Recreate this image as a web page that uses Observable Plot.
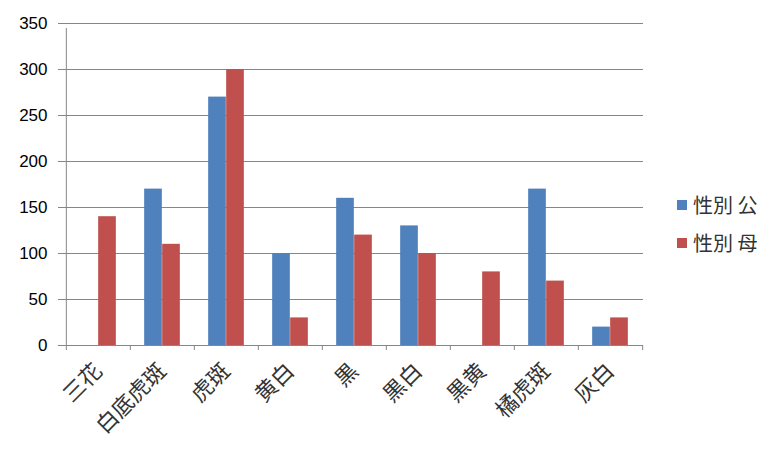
<!DOCTYPE html>
<html><head><meta charset="utf-8">
<script src="https://cdn.jsdelivr.net/npm/d3@7"></script>
<script src="https://cdn.jsdelivr.net/npm/@observablehq/plot@0.6"></script>
<style>
body{margin:0;background:#fff}
#wrap{position:relative;width:782px;height:449px;overflow:hidden}
#legend{position:absolute;left:677px;top:186px;font-family:"Noto Sans CJK JP",sans-serif;font-size:20px;color:#333}
.item{display:flex;align-items:center;height:38px;line-height:1}
.sw{width:10px;height:10px;margin-right:6px;flex:none}
</style>
</head><body>
<div id="wrap"><div id="legend"></div></div>
<script>
const categories = ["三花","白底虎斑","虎斑","黄白","黒","黒白","黒黄","橘虎斑","灰白"];
const seriesNames = ["性別 公","性別 母"];
const maleValues = [0,170,270,100,160,130,0,170,20];
const femaleValues = [140,110,300,30,120,100,80,70,30];
const yTicks = [0,50,100,150,200,250,300,350];
const colors = ["#4F81BD","#C0504D"];

const W = 782, H = 449, mL = 64, mR = 139, mT = 23, mB = 104;
const step = (W - mL - mR) / categories.length;
const barW = 18;

const male = categories.map((c,i)=>({cat:c, value:maleValues[i]}));
const female = categories.map((c,i)=>({cat:c, value:femaleValues[i]}));
const grid = "#868686";
const numFont = "'Liberation Sans', Arial, sans-serif";

const chart = Plot.plot({
  width: W, height: H,
  marginLeft: mL, marginRight: mR, marginTop: mT, marginBottom: mB,
  style: {background:"#fff", color:"#000", fontFamily:"'Noto Sans CJK JP', sans-serif"},
  x: {type:"band", domain: categories, padding: 0, axis: null},
  y: {domain:[0,350]},
  marks: [
    Plot.gridY(yTicks, {stroke: grid, strokeOpacity: 1}),
    Plot.barY(male, {x:"cat", y:"value", fill: colors[0], insetLeft: step/2 - barW, insetRight: step/2}),
    Plot.barY(female, {x:"cat", y:"value", fill: colors[1], insetLeft: step/2, insetRight: step/2 - barW}),
    Plot.ruleX(categories.slice(0,1), {x: d=>d, y1: yTicks[0], y2: yTicks[yTicks.length-1], dx: -step/2, stroke: grid, insetBottom: -5}),
    Plot.ruleX(categories, {x: d=>d, y1: 0, y2: 0, dx: -step/2, stroke: grid, insetBottom: -5}),
    Plot.ruleX(categories.slice(-1), {x: d=>d, y1: 0, y2: 0, dx: step/2, stroke: grid, insetBottom: -5}),
    Plot.axisY({ticks: yTicks, tickSize: 6, tickPadding: 11, stroke: grid, fontSize: 17, fontFamily: numFont, label: null, tickFormat: d=>String(d), fill:"#000"}),
    Plot.text(categories, {x: d=>d, frameAnchor: "bottom", text: d=>d, rotate: -45, textAnchor: "end", lineAnchor: "middle", dx: 0, dy: 22, fontSize: 22, fill: "#333"})
  ]
});
document.getElementById("wrap").prepend(chart);

const legend = document.getElementById("legend");
seriesNames.forEach((n,i)=>{
  const it = document.createElement("div"); it.className="item";
  const sw = document.createElement("div"); sw.className="sw"; sw.style.background = colors[i];
  const t = document.createElement("span"); t.textContent = n;
  it.append(sw,t); legend.append(it);
});
</script>
</body></html>
